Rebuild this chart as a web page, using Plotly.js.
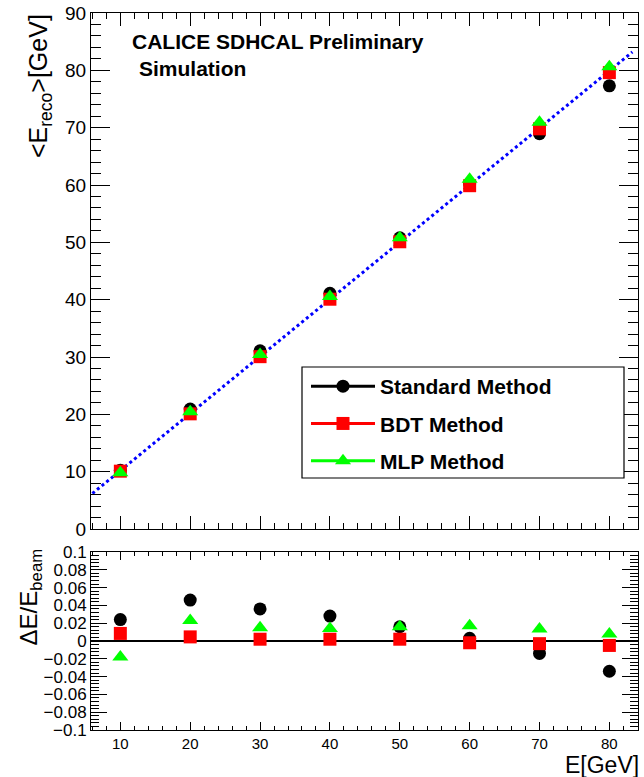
<!DOCTYPE html>
<html><head><meta charset="utf-8">
<script src="https://cdn.plot.ly/plotly-3.0.1.min.js"></script>
<style>html,body{margin:0;padding:0;background:#fff}</style>
</head><body><div id="chart" style="width:644px;height:777px"></div>
<script>
const energies = [10, 20, 30, 40, 50, 60, 70, 80];
const recoStandard = [10.24, 20.92, 31.08, 41.12, 50.80, 60.18, 68.95, 77.30];
const recoBDT = [10.09, 20.09, 30.06, 40.08, 50.10, 59.88, 69.80, 79.60];
const recoMLP = [9.82, 20.46, 30.45, 40.56, 50.80, 61.00, 70.95, 80.62];
const devStandard = [0.024, 0.046, 0.036, 0.028, 0.016, 0.003, -0.014, -0.034];
const devBDT = [0.0085, 0.0046, 0.002, 0.002, 0.002, -0.002, -0.003, -0.005];
const devMLP = [-0.018, 0.023, 0.015, 0.014, 0.016, 0.017, 0.0135, 0.0078];
const fitX = [6.0, 83.3];
const fitY = [6.2, 83.2];
const seriesNames = ['Standard Method', 'BDT Method', 'MLP Method'];
const seriesColors = ['#000000', '#ff0000', '#00ff00'];
const seriesSymbols = ['circle', 'square', 'triangle-up'];
const seriesSizes = [13, 13, 14];

const FONT = 'Liberation Sans, Arial, Helvetica, sans-serif';
const topVals = [recoStandard, recoBDT, recoMLP];
const botVals = [devStandard, devBDT, devMLP];

const traces = [];
traces.push({x: fitX, y: fitY, xaxis: 'x2', yaxis: 'y2', mode: 'lines',
  line: {color: '#0000ff', width: 3, dash: 'dot'}, showlegend: false, hoverinfo: 'skip'});
for (let i = 0; i < 3; i++) {
  traces.push({x: energies, y: topVals[i], xaxis: 'x2', yaxis: 'y2', mode: 'markers',
    marker: {color: seriesColors[i], symbol: seriesSymbols[i], size: seriesSizes[i], line: {width: 0}},
    showlegend: false, name: seriesNames[i]});
}
for (let i = 0; i < 3; i++) {
  traces.push({x: energies, y: botVals[i], xaxis: 'x', yaxis: 'y', mode: 'markers',
    marker: {color: seriesColors[i], symbol: seriesSymbols[i], size: seriesSizes[i], line: {width: 0}},
    showlegend: false, name: seriesNames[i]});
}
for (let i = 0; i < 3; i++) {
  traces.push({x: [null], y: [null], xaxis: 'x2', yaxis: 'y2', mode: 'lines+markers',
    name: seriesNames[i], legendgroup: 'g' + i,
    line: {color: seriesColors[i], width: 3},
    marker: {color: seriesColors[i], symbol: seriesSymbols[i], size: seriesSizes[i], line: {width: 0}}});
}

const W = 547, H = 717, L = 91, T = 13;
const px = v => (v - L) / W;
const py = v => (T + H - v) / H;

const xBase = {range: [5.8, 84.1], showline: true, linecolor: '#000', linewidth: 1, mirror: 'ticks',
  ticks: 'inside', dtick: 10, tick0: 0, tickcolor: '#000', showgrid: false, zeroline: false};

const layout = {
  width: 644, height: 777,
  margin: {l: 91, r: 6, t: 13, b: 47},
  paper_bgcolor: '#fff', plot_bgcolor: '#fff',
  font: {family: FONT, color: '#000'},
  showlegend: true,
  xaxis: Object.assign({}, xBase, {domain: [0, 1], anchor: 'y', ticklen: 8,
    minor: {ticks: 'inside', ticklen: 4, dtick: 2, tickcolor: '#000'},
    tickfont: {size: 15, family: FONT}}),
  yaxis: {domain: [0, 0.2483], anchor: 'x', range: [-0.1, 0.1], dtick: 0.02, tick0: 0,
    showline: true, linecolor: '#000', mirror: 'ticks', ticks: 'inside', ticklen: 16, tickcolor: '#000',
    minor: {ticks: 'inside', ticklen: 8, dtick: 0.004, tickcolor: '#000'},
    tickfont: {size: 17, family: FONT}, showgrid: false,
    zeroline: true, zerolinecolor: '#000', zerolinewidth: 2},
  xaxis2: Object.assign({}, xBase, {domain: [0, 1], anchor: 'y2', ticklen: 13, showticklabels: false,
    minor: {ticks: 'inside', ticklen: 6, dtick: 2, tickcolor: '#000'}}),
  yaxis2: {domain: [0.2803, 1], anchor: 'x2', range: [0, 90], dtick: 10, tick0: 0,
    showline: true, linecolor: '#000', mirror: 'ticks', ticks: 'inside', ticklen: 19, tickcolor: '#000',
    minor: {ticks: 'inside', ticklen: 10, dtick: 2, tickcolor: '#000'},
    tickfont: {size: 19, family: FONT}, showgrid: false, zeroline: false},
  legend: {x: px(306), y: py(366), xanchor: 'left', yanchor: 'top', bgcolor: 'rgba(0,0,0,0)',
    borderwidth: 0, font: {family: FONT, size: 21, weight: 'bold', color: '#000'},
    itemwidth: 64, tracegroupgap: 7, traceorder: 'grouped'},
  shapes: [{type: 'rect', xref: 'paper', yref: 'paper', x0: px(302), x1: px(624), y0: py(478), y1: py(367),
    line: {color: '#000', width: 1.2}, fillcolor: '#fff', layer: 'above'}],
  annotations: [
    {xref: 'paper', yref: 'paper', x: px(130), y: py(41.5), xanchor: 'left', yanchor: 'middle', showarrow: false,
      text: 'CALICE SDHCAL Preliminary', font: {family: FONT, size: 21, weight: 'bold'}},
    {xref: 'paper', yref: 'paper', x: px(137), y: py(68), xanchor: 'left', yanchor: 'middle', showarrow: false,
      text: 'Simulation', font: {family: FONT, size: 21, weight: 'bold'}},
    {xref: 'paper', yref: 'paper', x: px(40), y: py(12), xanchor: 'center', yanchor: 'top', showarrow: false,
      textangle: -90, text: '&lt;E<sub>reco</sub>&gt;[GeV]', font: {family: FONT, size: 25}},
    {xref: 'paper', yref: 'paper', x: px(30), y: py(547), xanchor: 'center', yanchor: 'top', showarrow: false,
      textangle: -90, text: '\u0394E/E<sub>beam</sub>', font: {family: FONT, size: 24}},
    {xref: 'paper', yref: 'paper', x: px(640), y: py(765), xanchor: 'right', yanchor: 'middle', showarrow: false,
      borderpad: 0, text: 'E[GeV]', font: {family: FONT, size: 23}}
  ]
};

Plotly.newPlot('chart', traces, layout, {displayModeBar: false, staticPlot: true});
</script>
</body></html>
